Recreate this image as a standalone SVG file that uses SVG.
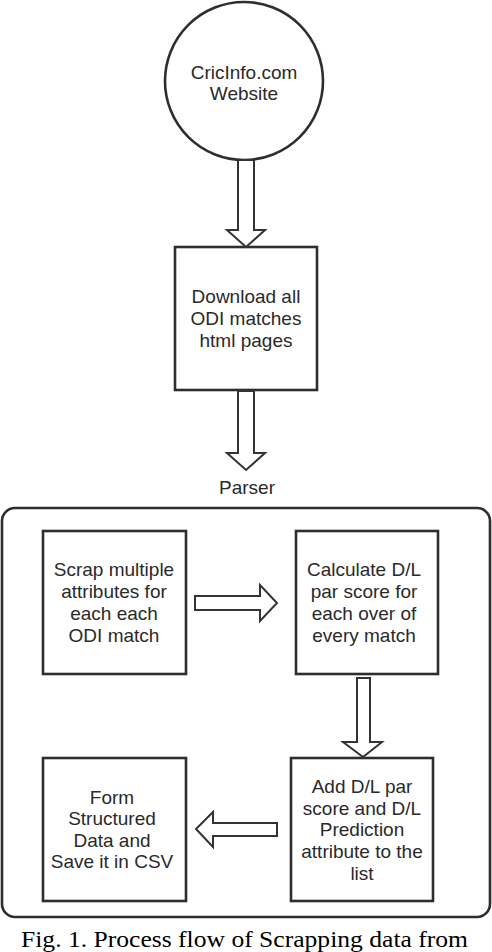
<svg xmlns="http://www.w3.org/2000/svg" width="492" height="952" viewBox="0 0 492 952">
<style>
.n{fill:#fff;stroke:#2e2e2e;stroke-width:2.6}
.a{fill:#fff;stroke:#333;stroke-width:2;stroke-linejoin:miter}
.t{font-family:"Liberation Sans",Arial,sans-serif;font-size:19px;fill:#2a2a2a;text-anchor:middle}
.c{font-family:"Liberation Serif","Times New Roman",serif;font-size:23px;fill:#000}
</style>
<rect width="492" height="952" fill="#fff"/>
<g id="parser-container">
<rect x="2" y="508" width="488" height="409" rx="13" ry="13" fill="none" stroke="#2e2e2e" stroke-width="2.6"/>
<text class="t" x="247" y="494">Parser</text>
</g>
<g id="cricinfo">
<circle class="n" cx="244" cy="81" r="79"/>
<text class="t" x="244" y="79">CricInfo.com</text>
<text class="t" x="244" y="100">Website</text>
</g>
<g id="download">
<rect class="n" x="175" y="247" width="142" height="143"/>
<text class="t" x="246" y="303">Download all</text>
<text class="t" x="246" y="325">ODI matches</text>
<text class="t" x="246" y="347">html pages</text>
</g>
<g id="scrap">
<rect class="n" x="43" y="531" width="143" height="143"/>
<text class="t" x="114" y="576">Scrap multiple</text>
<text class="t" x="114" y="598">attributes for</text>
<text class="t" x="114" y="620">each each</text>
<text class="t" x="114" y="642">ODI match</text>
</g>
<g id="calculate">
<rect class="n" x="296" y="531" width="142" height="143"/>
<text class="t" x="364" y="576">Calculate D/L</text>
<text class="t" x="364" y="598">par score for</text>
<text class="t" x="364" y="620">each over of</text>
<text class="t" x="364" y="642">every match</text>
</g>
<g id="add">
<rect class="n" x="291" y="758" width="142" height="143"/>
<text class="t" x="362" y="793">Add D/L par</text>
<text class="t" x="362" y="815">score and D/L</text>
<text class="t" x="362" y="836">Prediction</text>
<text class="t" x="362" y="858">attribute to the</text>
<text class="t" x="362" y="880">list</text>
</g>
<g id="form">
<rect class="n" x="43" y="758" width="143" height="143"/>
<text class="t" x="112" y="804">Form</text>
<text class="t" x="112" y="825">Structured</text>
<text class="t" x="112" y="847">Data and</text>
<text class="t" x="112" y="868">Save it in CSV</text>
</g>
<g id="connectors">
<path class="a" d="M238,160 L238,230 L227,230 L246,247 L265,230 L254,230 L254,160 Z"/>
<path class="a" d="M238,391 L238,453 L227,453 L246,470 L265,453 L254,453 L254,391 Z"/>
<path class="a" d="M195,596 L260,596 L260,585 L277,603 L260,621 L260,610 L195,610 Z"/>
<path class="a" d="M357,678 L357,742 L343,742 L363,757 L382,742 L370,742 L370,678 Z"/>
<path class="a" d="M277,823 L213,823 L213,812 L196,829 L213,847 L213,836 L277,836 Z"/>
</g>
<text class="c" x="21" y="947" textLength="447" lengthAdjust="spacingAndGlyphs">Fig. 1.  Process flow of Scrapping data from</text>
</svg>
